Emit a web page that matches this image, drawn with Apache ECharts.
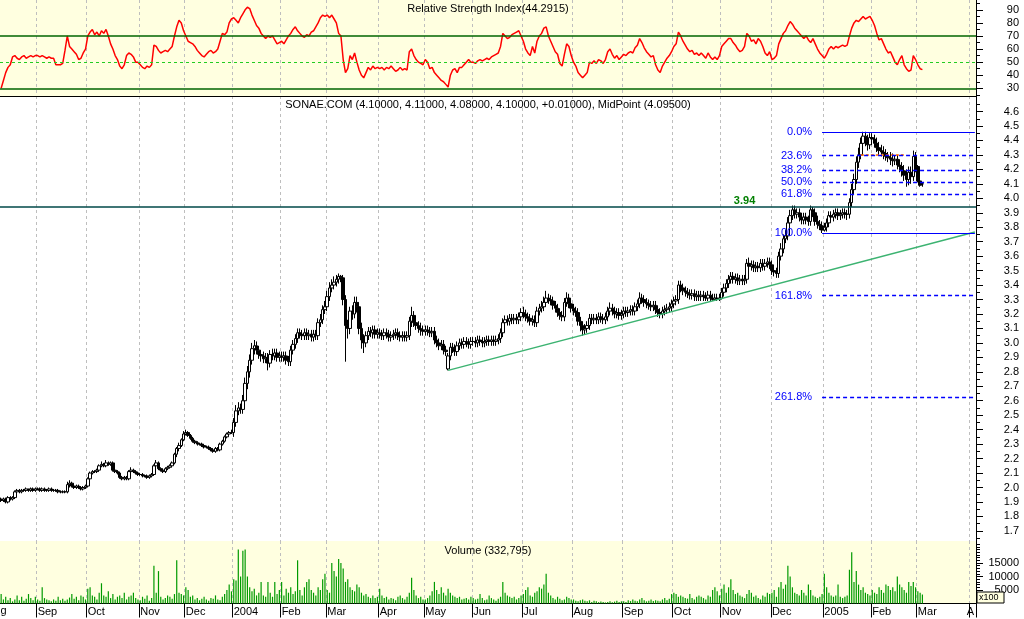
<!DOCTYPE html>
<html><head><meta charset="utf-8">
<script src="https://cdn.jsdelivr.net/npm/echarts@6/dist/echarts.min.js"></script>
<style>html,body{margin:0;padding:0;background:#fff}#c{width:1024px;height:619px}</style>
</head><body><div id="c"></div>
<script>
// ---- calendar (trading days per month shown on the axis) ----
const monthNames = ['Aug','Sep','Oct','Nov','Dec','2004','Feb','Mar','Apr','May','Jun','Jul','Aug','Sep','Oct','Nov','Dec','2005','Feb','Mar','Apr'];
const monthDays  = [16,22,23,20,21,21,20,23,20,21,22,22,22,22,21,22,23,21,20,23,3];

// ---- price (OHLC) ----
const opens = [
1.92,1.91,1.92,1.90,1.93,1.92,1.93,1.97,1.98,1.97,1.98,1.98,1.99,1.98,1.99,1.98,
1.99,1.99,1.98,1.99,1.98,1.98,1.99,1.98,1.98,1.98,1.97,1.97,1.97,1.97,2.02,2.03,2.01,2.00,2.01,2.00,1.99,2.00,
2.01,2.06,2.10,2.11,2.11,2.12,2.15,2.16,2.15,2.17,2.16,2.17,2.12,2.11,2.10,2.07,2.06,2.07,2.06,2.11,2.12,2.11,2.10,
2.09,2.09,2.08,2.08,2.07,2.08,2.09,2.15,2.17,2.13,2.12,2.11,2.13,2.14,2.15,2.17,2.23,2.27,2.29,2.33,
2.37,2.38,2.36,2.34,2.32,2.31,2.30,2.30,2.29,2.28,2.28,2.27,2.26,2.25,2.27,2.26,2.30,2.32,2.35,2.37,2.38,
2.38,2.45,2.53,2.55,2.54,2.60,2.72,2.80,2.88,2.96,2.98,2.95,2.92,2.91,2.89,2.90,2.86,2.92,2.91,2.93,2.90,
2.91,2.90,2.91,2.88,2.87,2.95,2.99,3.03,3.07,3.06,3.05,3.07,3.05,3.06,3.04,3.06,3.05,3.14,3.16,3.23,
3.25,3.32,3.38,3.40,3.42,3.44,3.46,3.45,3.30,3.12,3.10,3.22,3.20,3.28,3.25,3.10,3.02,3.00,3.05,3.08,3.07,3.09,3.06,
3.07,3.06,3.05,3.07,3.06,3.04,3.05,3.06,3.07,3.05,3.04,3.05,3.04,3.05,3.15,3.19,3.14,3.12,3.10,3.09,
3.08,3.09,3.08,3.07,3.08,3.02,3.00,2.98,2.99,2.95,2.82,2.91,2.97,2.96,2.94,2.98,3.00,2.99,3.01,3.00,2.99,
3.01,3.01,3.00,3.02,3.01,3.00,3.01,3.02,3.01,3.02,3.01,3.02,3.03,3.07,3.14,3.16,3.15,3.17,3.16,3.17,3.16,3.18,
3.21,3.20,3.18,3.17,3.15,3.16,3.14,3.22,3.24,3.25,3.28,3.31,3.30,3.29,3.26,3.24,3.21,3.19,3.18,3.28,3.31,3.27,
3.24,3.22,3.21,3.15,3.12,3.09,3.10,3.12,3.17,3.16,3.17,3.16,3.18,3.17,3.16,3.18,3.22,3.24,3.22,3.20,3.21,3.19,
3.20,3.22,3.21,3.22,3.23,3.22,3.25,3.27,3.31,3.30,3.28,3.27,3.26,3.25,3.26,3.23,3.21,3.20,3.22,3.23,3.24,3.25,
3.27,3.29,3.30,3.40,3.38,3.36,3.35,3.34,3.33,3.34,3.32,3.33,3.32,3.33,3.32,3.31,3.33,3.31,3.30,3.31,3.30,
3.31,3.35,3.38,3.41,3.44,3.46,3.44,3.45,3.43,3.44,3.43,3.44,3.55,3.53,3.54,3.52,3.53,3.52,3.55,3.53,3.55,3.56,
3.54,3.50,3.49,3.48,3.60,3.65,3.72,3.74,3.83,3.88,3.92,3.89,3.90,3.87,3.85,3.87,3.85,3.84,3.92,3.90,3.84,3.82,3.81,
3.78,3.80,3.83,3.88,3.87,3.89,3.90,3.88,3.89,3.90,3.89,3.89,3.97,4.06,4.13,4.25,4.30,4.38,4.43,4.40,4.37,
4.42,4.41,4.38,4.35,4.33,4.32,4.31,4.29,4.28,4.27,4.26,4.27,4.23,4.22,4.19,4.16,4.13,4.18,4.15,4.29,
4.22,4.12,4.10];
const closes = [
1.91,1.92,1.90,1.93,1.92,1.93,1.97,1.98,1.97,1.98,1.98,1.99,1.98,1.99,1.98,1.99,
1.99,1.98,1.99,1.98,1.98,1.99,1.98,1.98,1.98,1.97,1.97,1.97,1.97,2.02,2.03,2.01,2.00,2.01,2.00,1.99,2.00,2.01,
2.06,2.10,2.11,2.11,2.12,2.15,2.16,2.15,2.17,2.16,2.17,2.12,2.11,2.10,2.07,2.06,2.07,2.06,2.11,2.12,2.11,2.10,2.09,
2.09,2.08,2.08,2.07,2.08,2.09,2.15,2.17,2.13,2.12,2.11,2.13,2.14,2.15,2.17,2.23,2.27,2.29,2.33,2.37,
2.38,2.36,2.34,2.32,2.31,2.30,2.30,2.29,2.28,2.28,2.27,2.26,2.25,2.27,2.26,2.30,2.32,2.35,2.37,2.38,2.38,
2.45,2.53,2.55,2.54,2.60,2.72,2.80,2.88,2.96,2.98,2.95,2.92,2.91,2.89,2.90,2.86,2.92,2.91,2.93,2.90,2.91,
2.90,2.91,2.88,2.87,2.95,2.99,3.03,3.07,3.06,3.05,3.07,3.05,3.06,3.04,3.06,3.05,3.14,3.16,3.23,3.25,
3.32,3.38,3.40,3.42,3.44,3.46,3.45,3.30,3.12,3.10,3.22,3.20,3.28,3.25,3.10,3.02,3.00,3.05,3.08,3.07,3.09,3.06,3.07,
3.06,3.05,3.07,3.06,3.04,3.05,3.06,3.07,3.05,3.04,3.05,3.04,3.05,3.15,3.19,3.14,3.12,3.10,3.09,3.08,
3.09,3.08,3.07,3.08,3.02,3.00,2.98,2.99,2.95,2.94,2.91,2.97,2.96,2.94,2.98,3.00,2.99,3.01,3.00,2.99,3.01,
3.01,3.00,3.02,3.01,3.00,3.01,3.02,3.01,3.02,3.01,3.02,3.03,3.07,3.14,3.16,3.15,3.17,3.16,3.17,3.16,3.18,3.21,
3.20,3.18,3.17,3.15,3.16,3.14,3.22,3.24,3.25,3.28,3.31,3.30,3.29,3.26,3.24,3.21,3.19,3.18,3.28,3.31,3.27,3.24,
3.22,3.21,3.15,3.12,3.09,3.10,3.12,3.17,3.16,3.17,3.16,3.18,3.17,3.16,3.18,3.22,3.24,3.22,3.20,3.21,3.19,3.20,
3.22,3.21,3.22,3.23,3.22,3.25,3.27,3.31,3.30,3.28,3.27,3.26,3.25,3.26,3.23,3.21,3.20,3.22,3.23,3.24,3.25,3.27,
3.29,3.30,3.40,3.38,3.36,3.35,3.34,3.33,3.34,3.32,3.33,3.32,3.33,3.32,3.31,3.33,3.31,3.30,3.31,3.30,3.31,
3.35,3.38,3.41,3.44,3.46,3.44,3.45,3.43,3.44,3.43,3.44,3.55,3.53,3.54,3.52,3.53,3.52,3.55,3.53,3.55,3.56,3.54,
3.50,3.49,3.48,3.60,3.65,3.72,3.74,3.83,3.88,3.92,3.89,3.90,3.87,3.85,3.87,3.85,3.84,3.92,3.90,3.84,3.82,3.81,3.78,
3.80,3.83,3.88,3.87,3.89,3.90,3.88,3.89,3.90,3.89,3.89,3.97,4.06,4.13,4.25,4.30,4.38,4.43,4.40,4.37,4.42,
4.41,4.38,4.35,4.33,4.32,4.31,4.29,4.28,4.27,4.26,4.27,4.23,4.22,4.19,4.16,4.13,4.18,4.15,4.29,4.22,
4.12,4.09,4.10];
const highs = [
1.93,1.93,1.93,1.94,1.94,1.94,1.98,1.99,1.99,1.99,1.99,2.00,1.99,2.00,2.00,2.00,
2.00,2.00,2.00,2.00,1.99,2.00,2.00,1.99,1.99,1.99,1.98,1.98,1.98,2.04,2.05,2.04,2.02,2.02,2.02,2.01,2.01,2.02,
2.07,2.11,2.12,2.12,2.13,2.16,2.18,2.17,2.19,2.18,2.18,2.18,2.13,2.12,2.11,2.08,2.08,2.08,2.12,2.14,2.13,2.12,2.11,
2.10,2.10,2.09,2.09,2.09,2.10,2.16,2.19,2.18,2.14,2.13,2.14,2.15,2.16,2.18,2.24,2.28,2.31,2.34,2.39,
2.40,2.39,2.37,2.35,2.33,2.32,2.31,2.31,2.30,2.29,2.29,2.28,2.27,2.28,2.28,2.31,2.33,2.36,2.38,2.39,2.40,
2.48,2.57,2.59,2.58,2.64,2.76,2.84,2.92,3.00,3.02,3.01,2.98,2.95,2.94,2.93,2.93,2.95,2.96,2.96,2.96,2.94,
2.94,2.94,2.94,2.91,2.98,3.02,3.06,3.10,3.10,3.09,3.10,3.10,3.09,3.09,3.09,3.09,3.17,3.20,3.26,3.29,
3.36,3.42,3.44,3.46,3.47,3.48,3.47,3.47,3.33,3.16,3.25,3.26,3.32,3.32,3.28,3.14,3.06,3.08,3.11,3.11,3.12,3.12,3.10,
3.10,3.09,3.10,3.10,3.09,3.08,3.09,3.10,3.10,3.08,3.08,3.08,3.08,3.18,3.25,3.22,3.18,3.15,3.14,3.12,
3.12,3.12,3.11,3.11,3.11,3.05,3.03,3.02,3.02,2.98,2.93,3.00,3.00,2.99,3.01,3.03,3.03,3.04,3.04,3.03,3.04,
3.04,3.04,3.05,3.05,3.04,3.04,3.05,3.05,3.05,3.05,3.05,3.06,3.10,3.17,3.19,3.19,3.20,3.20,3.20,3.20,3.21,3.24,
3.25,3.23,3.21,3.20,3.19,3.19,3.25,3.27,3.29,3.32,3.36,3.34,3.33,3.32,3.29,3.27,3.24,3.22,3.31,3.35,3.34,3.30,
3.27,3.25,3.24,3.18,3.15,3.13,3.15,3.20,3.20,3.20,3.20,3.21,3.21,3.20,3.21,3.25,3.28,3.27,3.25,3.24,3.24,3.23,
3.25,3.25,3.25,3.26,3.26,3.28,3.30,3.35,3.34,3.33,3.31,3.30,3.29,3.29,3.29,3.26,3.24,3.25,3.26,3.27,3.28,3.30,
3.32,3.33,3.43,3.43,3.41,3.39,3.38,3.37,3.37,3.37,3.36,3.36,3.36,3.36,3.35,3.36,3.36,3.34,3.34,3.34,3.34,
3.38,3.41,3.44,3.47,3.49,3.49,3.48,3.48,3.47,3.47,3.47,3.58,3.59,3.57,3.57,3.56,3.56,3.58,3.58,3.58,3.59,3.59,
3.57,3.53,3.52,3.63,3.69,3.75,3.78,3.87,3.92,3.95,3.95,3.93,3.93,3.90,3.90,3.90,3.88,3.95,3.94,3.93,3.88,3.85,3.84,
3.83,3.86,3.91,3.91,3.92,3.93,3.93,3.92,3.93,3.93,3.92,4.00,4.10,4.17,4.29,4.35,4.42,4.46,4.46,4.44,4.45,
4.45,4.44,4.42,4.39,4.37,4.36,4.34,4.32,4.32,4.31,4.30,4.30,4.27,4.25,4.23,4.20,4.22,4.22,4.33,4.32,
4.23,4.14,4.11];
const lows = [
1.90,1.90,1.89,1.89,1.91,1.91,1.92,1.96,1.96,1.96,1.97,1.97,1.97,1.97,1.97,1.97,
1.98,1.97,1.97,1.97,1.97,1.97,1.97,1.97,1.97,1.96,1.96,1.96,1.96,1.96,2.00,2.00,1.99,1.99,1.99,1.98,1.98,1.99,
2.00,2.05,2.09,2.10,2.10,2.11,2.14,2.14,2.14,2.15,2.15,2.11,2.10,2.09,2.06,2.05,2.05,2.05,2.05,2.10,2.10,2.09,2.08,
2.08,2.07,2.07,2.06,2.06,2.07,2.08,2.14,2.12,2.11,2.10,2.10,2.12,2.13,2.14,2.16,2.21,2.25,2.28,2.32,
2.36,2.35,2.33,2.31,2.30,2.29,2.29,2.28,2.27,2.27,2.26,2.25,2.24,2.24,2.25,2.25,2.29,2.31,2.34,2.36,2.37,
2.35,2.42,2.50,2.51,2.51,2.57,2.68,2.76,2.85,2.92,2.92,2.89,2.87,2.86,2.86,2.81,2.83,2.88,2.88,2.87,2.87,
2.87,2.87,2.85,2.84,2.84,2.92,2.96,3.00,3.03,3.02,3.02,3.02,3.02,3.01,3.01,3.02,3.02,3.11,3.13,3.20,
3.22,3.29,3.35,3.37,3.39,3.41,3.42,3.26,2.87,3.03,3.06,3.16,3.17,3.21,3.06,2.96,2.93,2.97,3.02,3.04,3.03,3.03,3.03,
3.03,3.02,3.02,3.03,3.01,3.01,3.02,3.03,3.02,3.01,3.01,3.01,3.01,3.02,3.11,3.11,3.09,3.07,3.05,3.05,
3.05,3.05,3.04,3.04,2.99,2.97,2.95,2.95,2.92,2.91,2.81,2.88,2.93,2.91,2.91,2.95,2.96,2.96,2.97,2.96,2.96,
2.98,2.97,2.97,2.98,2.97,2.97,2.98,2.98,2.98,2.98,2.98,2.99,3.00,3.04,3.11,3.12,3.12,3.13,3.13,3.13,3.13,3.15,
3.17,3.15,3.14,3.12,3.12,3.11,3.11,3.19,3.21,3.22,3.25,3.27,3.26,3.23,3.21,3.18,3.16,3.15,3.15,3.25,3.24,3.21,
3.19,3.18,3.12,3.08,3.05,3.06,3.07,3.09,3.13,3.13,3.13,3.13,3.14,3.13,3.13,3.15,3.19,3.19,3.17,3.17,3.16,3.16,
3.17,3.18,3.18,3.19,3.19,3.19,3.22,3.24,3.27,3.25,3.24,3.23,3.22,3.22,3.20,3.18,3.17,3.17,3.19,3.20,3.21,3.22,
3.24,3.26,3.27,3.35,3.33,3.32,3.31,3.30,3.30,3.29,3.29,3.29,3.29,3.29,3.29,3.29,3.29,3.29,3.29,3.29,3.29,
3.30,3.32,3.35,3.38,3.41,3.41,3.41,3.40,3.40,3.40,3.40,3.41,3.50,3.50,3.49,3.49,3.49,3.49,3.50,3.50,3.52,3.51,
3.47,3.46,3.45,3.45,3.57,3.62,3.69,3.71,3.80,3.85,3.86,3.86,3.84,3.82,3.82,3.82,3.81,3.81,3.87,3.81,3.79,3.78,3.76,
3.77,3.77,3.80,3.84,3.84,3.86,3.85,3.85,3.86,3.86,3.85,3.86,3.94,4.03,4.10,4.21,4.27,4.34,4.36,4.33,4.34,
4.37,4.35,4.32,4.30,4.29,4.27,4.26,4.25,4.23,4.22,4.23,4.20,4.18,4.15,4.12,4.08,4.09,4.10,4.12,4.18,
4.11,4.08,4.08];

// ---- RSI (14) ----
const rsi = [
30,36,42,46,48,54,55,53,52,54,55,53,54,55,54,55,
55,54,55,54,53,54,53,53,48,48,48,49,59,70,62,60,58,56,52,53,57,60,
70,73,75,71,73,70,74,72,75,70,64,60,55,52,47,45,48,55,57,56,54,50,50,
48,46,45,47,46,48,63,62,59,57,58,59,58,60,62,70,77,82,80,74,
70,66,65,64,62,59,57,55,54,56,58,59,57,58,60,66,72,71,73,80,83,
84,82,80,84,87,90,92,91,86,82,78,76,72,70,68,70,69,70,67,64,65,
66,64,67,70,72,75,77,74,72,70,69,71,70,73,74,77,80,84,86,85,
86,84,86,83,80,72,70,52,42,45,55,52,57,50,44,40,38,42,46,44,47,45,46,
45,46,44,46,45,47,45,43,44,46,44,45,44,58,60,55,52,50,49,48,
52,50,45,46,42,40,38,36,35,33,31,40,44,45,42,46,46,48,50,52,50,
50,49,51,52,51,52,53,52,54,55,56,57,62,72,70,68,69,71,72,73,74,70,
66,60,57,55,62,57,66,70,72,76,77,70,66,62,58,56,49,47,56,64,62,55,
50,47,42,40,38,40,42,50,49,51,49,52,51,49,52,58,60,56,53,55,52,54,
56,55,57,58,57,61,63,68,65,61,58,56,54,55,48,44,42,47,50,53,55,58,
62,64,73,70,66,63,60,58,59,56,57,55,57,55,53,57,54,52,54,52,55,
62,64,66,68,68,65,63,60,58,59,62,72,70,66,67,64,68,66,62,57,55,58,
52,53,55,64,68,72,74,78,81,79,76,74,72,70,68,70,67,65,68,64,60,57,55,
53,56,60,62,60,62,61,62,63,62,63,70,76,80,82,81,83,85,83,84,85,
82,78,72,67,68,64,60,57,58,54,50,48,52,55,48,45,43,44,55,52,
48,45,44.2915];

// ---- Volume (x100) ----
const volumes = [
3500,1500,2500,1200,2000,800,1500,3000,1200,2500,1000,1800,3500,2000,1200,2500,
1500,1000,6000,2000,1500,1200,800,1500,1000,2500,1200,1800,1000,1500,2200,3500,1800,2500,1200,3000,2500,1500,
5500,6000,3000,2500,1500,4000,7500,3000,2500,4500,2000,3500,1500,2500,3000,2000,4000,1500,2500,3000,4000,2000,1500,
1200,2500,1800,3000,1000,2000,14000,4000,12000,2500,1500,2000,3000,2500,1800,3500,16000,4000,3500,3000,
6000,5000,2500,3000,1500,2000,1200,1800,2500,1500,1000,2000,1800,3000,1500,1200,2500,3500,5000,7000,4500,
9000,8500,20000,10000,19500,20000,10000,6000,4500,5500,3000,4000,8000,3000,2500,8000,4000,2500,8000,3500,5000,
8000,3000,5500,4000,6000,3500,4500,16000,5000,3000,6000,8000,9000,5000,4000,3000,6000,5000,9000,11000,
5000,4000,15000,12000,10000,16500,15000,13000,8000,9000,6000,5000,4500,7000,6000,4000,3000,3500,2500,2000,3000,2000,2500,
5500,3000,2000,2500,1500,2000,1800,1200,2500,3000,2000,1500,2500,4000,9500,5000,3000,2000,2500,1500,
1500,2000,3000,4500,8000,5000,3500,6000,4000,3000,5500,4000,3000,2500,2000,2500,1500,1800,2000,1500,2500,
2000,1500,1800,3500,2000,1200,1500,3000,2000,1500,1000,1800,2500,8000,4000,3000,2500,2000,2500,1500,2000,3000,
3500,5000,6000,3000,2500,4000,4500,6000,5500,7000,11000,4000,3000,2000,1500,2500,1800,1200,1500,2500,2000,1500,
1500,1000,800,1200,1500,1000,800,1200,600,1000,800,500,700,600,400,600,800,500,700,1000,600,800,
800,600,1200,900,1500,1000,800,1500,2000,1200,800,1000,1500,900,1200,1000,800,1500,2000,1200,1800,3500,
4000,3500,2500,3000,2500,2000,1800,3500,2000,1500,2500,3000,2500,2000,1500,3000,2500,5000,6000,4500,3000,
5500,7000,4000,6000,9000,5000,3500,4000,3000,2500,2000,3500,5000,4000,2500,3000,2000,1500,3000,2500,4000,3500,
4000,5000,2500,6000,8000,5500,7000,14000,10000,6000,4000,3500,3000,5000,4000,3000,7000,5000,3000,2500,2000,2500,3500,
11000,6000,4000,3000,2500,3000,7000,2500,2000,2500,3000,12500,19000,8000,12000,7000,5000,6000,4000,3500,3000,
5000,4000,3500,6000,5000,4000,7000,6500,5000,6000,4500,10000,7000,6000,5000,4000,8000,6500,8000,6000,
4500,4000,3327.95];

// ---- axis ticks ----
const rsiTicks = [30,40,50,60,70,80,90];
const rsiMinorTicks = [25,35,45,55,65,75,85,95];
const priceTicks = [1.7,1.8,1.9,2.0,2.1,2.2,2.3,2.4,2.5,2.6,2.7,2.8,2.9,3.0,3.1,3.2,3.3,3.4,3.5,3.6,3.7,3.8,3.9,4.0,4.1,4.2,4.3,4.4,4.5,4.6];
const priceMinorTicks = [1.65,1.75,1.85,1.95,2.05,2.15,2.25,2.35,2.45,2.55,2.65,2.75,2.85,2.95,3.05,3.15,3.25,3.35,3.45,3.55,3.65,3.75,3.85,3.95,4.05,4.15,4.25,4.35,4.45,4.55,4.65];
const volTicks = [5000,10000,15000];
const volMinorTicks = [1000,2000,3000,4000,6000,7000,8000,9000,11000,12000,13000,14000,16000,17000,18000,19000,20000,21000,22000];

// ---- annotations ----
const resistance = 3.94, resistanceLabelAt = 326;
const fibHigh = 4.46, fibLow = 3.76, fibStart = 360, fibEnd = 427;
const fibLevels = [0, 23.6, 38.2, 50.0, 61.8, 100.0, 161.8, 261.8];
const trendLine = [[196, 2.81], [427, 3.767]];
const orangeLine = [[377, 4.30], [396, 4.30]];
const lastBar = {open:4.10, high:4.11, low:4.08, close:4.10, change:0.01, mid:4.095};

// ---- build ----
const FONT = '"Liberation Sans", Arial, Helvetica, sans-serif';
const cats = [], monthStarts = [];
monthNames.forEach((m, k) => {
  monthStarts.push(cats.length);
  for (let d = 0; d < monthDays[k]; d++) {
    const name = m + ' ' + (d + 1);
    if (k === monthNames.length - 1 && d === 0) cats.push({value:name, textStyle:{width:9, overflow:'truncate', ellipsis:''}});
    else cats.push(name);
  }
});
const isMark = (i) => i > 0 && monthStarts.indexOf(i) >= 0;
const ohlc = opens.map((o, i) => [o, closes[i], lows[i], highs[i]]);

function xAx(g) {
  return {
    type:'category', gridIndex:g, data:cats, boundaryGap:true,
    axisLine:{show:g !== 1, lineStyle:{color:'#000', width:1}},
    axisTick:{show:g === 2, interval:isMark, length:14, lineStyle:{color:'#000'}},
    axisLabel:{show:g === 2, interval:isMark, formatter:(v) => v.split(' ')[0], align:'left', margin:3,
      color:'#000', fontSize:11, fontFamily:FONT},
    splitLine:{show:true, interval:isMark, lineStyle:{color:'#BEBEBE', width:1, type:[3,3]}}
  };
}
function mainY(g, min, max, ticks, fmt) {
  return {
    type:'value', gridIndex:g, position:'right', min:min, max:max,
    axisLine:{show:true, lineStyle:{color:'#000', width:1}},
    axisTick:{show:true, length:7, customValues:ticks, lineStyle:{color:'#000'}},
    axisLabel:{show:true, customValues:ticks, align:'right', margin:43, color:'#000', fontSize:11, fontFamily:FONT, formatter:fmt},
    splitLine:{show:false}
  };
}
function minorY(g, min, max, ticks) {
  return {
    type:'value', gridIndex:g, position:'right', min:min, max:max,
    axisLine:{show:false}, axisLabel:{show:false}, splitLine:{show:false},
    axisTick:{show:true, length:4, customValues:ticks, lineStyle:{color:'#000'}}
  };
}

const rsiMin = 24.11, rsiMax = 97.53;
const pMin = 1.630, pMax = 4.7075;
const vMax = 23150;

const fibLines = fibLevels.map((l) => {
  const p = +(fibHigh - (fibHigh - fibLow) * l / 100).toFixed(4);
  const solid = (l === 0 || l === 100);
  return [
    {name:l.toFixed(1) + '%', coord:[fibStart, p],
     lineStyle:{color:'#0000FF', width:solid ? 1 : 1.3, type:solid ? 'solid' : [4,3]},
     label:{show:true, position:'start', formatter:'{b}', color:'#0000FF', fontSize:11, fontFamily:FONT, distance:10}},
    {coord:[fibEnd, p]}
  ];
});

const option = {
  animation:false,
  backgroundColor:'#FFFFFF',
  textStyle:{fontFamily:FONT},
  title:[
    {text:'Relative Strength Index(' + rsi[rsi.length - 1] + ')', left:488, top:3, textAlign:'center', padding:0,
     textStyle:{fontSize:11, fontWeight:'normal', color:'#000', fontFamily:FONT}},
    {text:'SONAE.COM (' + lastBar.open.toFixed(5) + ', ' + lastBar.high.toFixed(5) + ', ' + lastBar.low.toFixed(5) + ', ' +
      lastBar.close.toFixed(5) + ', +' + lastBar.change.toFixed(5) + '), MidPoint (' + lastBar.mid.toFixed(5) + ')',
     left:488, top:99, textAlign:'center', padding:0, textStyle:{fontSize:11, fontWeight:'normal', color:'#000', fontFamily:FONT}},
    {text:'Volume (' + Math.round(volumes[volumes.length - 1] * 100).toLocaleString('en-US') + ')', left:488, top:545, textAlign:'center', padding:0,
     textStyle:{fontSize:11, fontWeight:'normal', color:'#000', fontFamily:FONT}}
  ],
  grid:[
    {left:0, right:48, top:0, height:96, show:true, backgroundColor:'#FFFFE0', borderWidth:0},
    {left:0, right:48, top:96, height:445, show:false},
    {left:0, right:48, top:541, height:62.5, show:true, backgroundColor:'#FFFFE0', borderWidth:0}
  ],
  xAxis:[xAx(0), xAx(1), xAx(2)],
  yAxis:[
    mainY(0, rsiMin, rsiMax, rsiTicks, (v) => String(v)),
    mainY(1, pMin, pMax, priceTicks, (v) => v.toFixed(1)),
    mainY(2, 0, vMax, volTicks, (v) => String(v)),
    minorY(0, rsiMin, rsiMax, rsiMinorTicks),
    minorY(1, pMin, pMax, priceMinorTicks),
    minorY(2, 0, vMax, volMinorTicks)
  ],
  series:[
    {type:'line', xAxisIndex:0, yAxisIndex:0, data:rsi, symbol:'none', silent:true,
     lineStyle:{color:'#FF0000', width:1.5}, itemStyle:{color:'#FF0000'},
     markLine:{silent:true, symbol:['none','none'], label:{show:false},
       data:[
         {yAxis:70, lineStyle:{color:'#006400', width:1.5, type:'solid'}},
         {yAxis:30, lineStyle:{color:'#006400', width:1.5, type:'solid'}},
         {yAxis:50, lineStyle:{color:'#22CC22', width:1, type:[3,3]}}
       ]}},
    {type:'candlestick', xAxisIndex:1, yAxisIndex:1, data:ohlc, barWidth:3, silent:true,
     itemStyle:{color:'#FFFFFF', color0:'#000000', borderColor:'#000000', borderColor0:'#000000', borderWidth:1},
     markLine:{silent:true, symbol:['none','none'], label:{show:false}, z:3,
       data:[
         {yAxis:resistance, lineStyle:{color:'#004848', width:1.5, type:'solid'}, label:{show:false}},
         [{coord:trendLine[0], lineStyle:{color:'#3CB371', width:1.5, type:'solid'}, label:{show:false}}, {coord:trendLine[1]}],
         [{coord:orangeLine[0], lineStyle:{color:'#FF6600', width:1.5, type:[3,2]}, label:{show:false}}, {coord:orangeLine[1]}]
       ].concat(fibLines)},
     markPoint:{silent:true, symbol:'circle', symbolSize:0,
       data:[{coord:[resistanceLabelAt, resistance], value:resistance,
         label:{show:true, position:'top', distance:1, formatter:resistance.toFixed(2), color:'#008000', fontWeight:'bold', fontSize:11, fontFamily:FONT}}]}},
    {type:'bar', xAxisIndex:2, yAxisIndex:2, data:volumes, barWidth:1.2, silent:true, itemStyle:{color:'#009A00'}}
  ],
  graphic:[
    {type:'text', left:-13, top:605, z:10, style:{text:'Aug', fill:'#000', font:'11px ' + FONT}},
    {type:'rect', shape:{x:977, y:592, width:27, height:11}, z:20, style:{fill:'#FFFFE0', stroke:'#000', lineWidth:1}},
    {type:'text', x:979, y:593, z:21, style:{text:'x100', fill:'#000', font:'9px ' + FONT}}
  ]
};
const chart = echarts.init(document.getElementById('c'), null, {renderer:'canvas'});
chart.setOption(option);
</script>
</body></html>
